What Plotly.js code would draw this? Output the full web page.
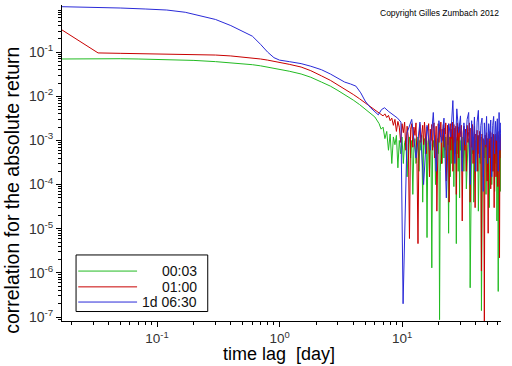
<!DOCTYPE html>
<html>
<head>
<meta charset="utf-8">
<script src="https://cdn.plot.ly/plotly-3.0.1.min.js"></script>
<style>html,body{margin:0;padding:0;background:#fff;}#chart{width:512px;height:366px;}</style>
</head>
<body>
<div id="chart"></div>
<script>
// ---- data ----
var seriesNames = ["00:03", "01:00", "1d 06:30"];
var xTitle = "time lag\u00a0\u00a0[day]";
var yTitle = "correlation for the absolute return";

var lagSmooth = [0.0167, 0.025, 0.033, 0.05, 0.07, 0.1, 0.15, 0.2, 0.3, 0.4, 0.5, 0.6, 0.7, 0.8, 1.0, 1.2, 1.5, 1.8, 2.2, 2.6, 3.0, 3.5, 4.0, 4.5, 5.0, 5.5, 6.0];

var lagNoise = [6.5, 6.75, 7, 7.25, 7.5, 7.75, 8, 8.25, 8.5, 8.75,
  9, 9.25, 9.5, 9.75, 10, 10.25, 10.5, 10.75, 11, 11.25,
  11.5, 11.75, 12, 12.25, 12.5, 12.75, 13, 13.25, 13.5, 13.75,
  14, 14.25, 14.5, 14.75, 15, 15.25, 15.5, 15.75, 16, 16.25,
  16.5, 16.75, 17, 17.25, 17.5, 17.75, 18, 18.25, 18.5, 18.75,
  19, 19.25, 19.5, 19.75, 20, 20.25, 20.5, 20.75, 21, 21.25,
  21.5, 21.75, 22, 22.25, 22.5, 22.75, 23, 23.25, 23.5, 23.75,
  24, 24.25, 24.5, 24.75, 25, 25.25, 25.5, 25.75, 26, 26.25,
  26.5, 26.75, 27, 27.25, 27.5, 27.75, 28, 28.25, 28.5, 28.75,
  29, 29.25, 29.5, 29.75, 30,
  30.5, 31, 31.5, 32, 32.5, 33, 33.5, 34, 34.5, 35,
  35.5, 36, 36.5, 37, 37.5, 38, 38.5, 39, 39.5, 40,
  40.5, 41, 41.5, 42, 42.5, 43, 43.5, 44, 44.5, 45,
  45.5, 46, 46.5, 47, 47.5, 48, 48.5, 49, 49.5, 50,
  50.5, 51, 51.5, 52, 52.5, 53, 53.5, 54, 54.5, 55,
  55.5, 56, 56.5, 57, 57.5, 58, 58.5, 59, 59.5, 60,
  60.5, 61, 61.5, 62, 62.5, 63, 63.5, 64, 64.5, 65];

var greenSmooth = [0.070, 0.071, 0.072, 0.071, 0.070, 0.069, 0.067, 0.065, 0.061, 0.058, 0.055, 0.052, 0.049, 0.046, 0.041, 0.037, 0.032, 0.027, 0.021, 0.017, 0.0135, 0.0105, 0.0082, 0.0065, 0.0052, 0.0042, 0.0034];

var greenNoise = [2.4e-3, 1.8e-3, 2.0e-3, 1.1e-3, 1.6e-3, 6e-4, 1.4e-3, 3e-4, 1.2e-3, 8e-4,
  1.3e-3, 2.4e-4, 1.0e-3, 5e-4, 1.2e-3, 3e-4, 9e-4, 1.1e-3, 1.5e-4, 8e-4,
  1.2e-3, 4e-4, 1.0e-3, 6e-5, 7e-4, 1.1e-3, 3e-4, 9e-4, 1.2e-3, 2e-4,
  1.0e-3, 6e-4, 1.3e-3, 4e-5, 8e-4, 1.1e-3, 5e-4, 1.2e-3, 6.3e-6, 9e-4,
  1.1e-3, 2e-4, 1.0e-3, 8e-4, 1.3e-6, 4e-4, 1.0e-3, 7e-4, 1.3e-3, 1.0e-4,
  6e-4, 9e-4, 1.1e-3, 5e-4, 1.2e-3, 8.7e-8, 2e-4, 9e-4, 1.2e-3, 3e-4,
  1.0e-3, 1.3e-3, 4e-4, 1.1e-3, 6e-4, 1.2e-3, 2e-4, 8e-4, 1.4e-3, 5e-4,
  7.9e-6, 1.0e-3, 1.2e-3, 1.5e-4, 9e-4, 1.3e-3, 3e-4, 1.1e-3, 6e-4, 1.2e-3,
  9e-5, 1.0e-3, 5e-4, 7e-4, 1.2e-3, 4.6e-6, 1.1e-3, 5e-4, 1.3e-3, 2e-4,
  9e-4, 1.2e-3, 5e-5, 1.0e-3, 6e-4,
  1.1e-3, 4e-4, 1.2e-3, 2e-4, 1.0e-3, 1.4e-3, 8e-5, 6e-4, 8e-4, 1.1e-3,
  3e-4, 4.6e-7, 1.2e-4, 9e-4, 5e-4, 1.2e-3, 4e-5, 7e-4, 1.0e-3, 2e-4,
  1.1e-3, 6e-4, 1.3e-3, 2.5e-5, 8e-4, 1.0e-3, 3e-4, 1.2e-3, 1.4e-7, 9e-4,
  1.1e-3, 1.5e-4, 7e-4, 1.0e-3, 4e-4, 1.3e-3, 6e-5, 8e-4, 1.1e-3, 2e-4,
  9e-4, 1.2e-3, 3e-5, 7e-4, 1.0e-3, 4e-4, 1.2e-3, 1e-4, 8e-4, 1.1e-3,
  2e-4, 9e-4, 1.3e-3, 7e-5, 8e-4, 1.0e-3, 3e-4, 1.1e-3, 1.5e-5, 9e-4,
  1.2e-3, 3.8e-7, 8e-4, 2e-4, 1.0e-3, 5e-4, 1.1e-3, 7e-5, 9e-4, 1.2e-3];

var redSmooth = [0.32, 0.16, 0.096, 0.094, 0.093, 0.092, 0.091, 0.089, 0.086, 0.082, 0.078, 0.074, 0.070, 0.066, 0.059, 0.053, 0.046, 0.038, 0.029, 0.023, 0.018, 0.014, 0.011, 0.0088, 0.0071, 0.0058, 0.0048];

var redNoise = [4.2e-3, 3.9e-3, 3.6e-3, 4.0e-3, 3.3e-3, 3.7e-3, 2.8e-3, 3.2e-3, 2.2e-3, 3.0e-3,
  1.6e-3, 2.7e-3, 2.0e-3, 9e-4, 2.4e-3, 1.5e-3, 2.6e-3, 6e-4, 2.1e-3, 1.2e-3,
  6e-6, 1.8e-3, 2.4e-3, 7e-4, 2.0e-3, 1.3e-3, 2.5e-3, 3e-4, 4.6e-6, 1.1e-3,
  2.3e-3, 9e-4, 1.6e-3, 2.2e-3, 8e-4, 2.6e-3, 1.4e-3, 5e-4, 2.0e-3, 1.7e-3,
  2.4e-3, 1.5e-4, 1.8e-3, 1.0e-3, 2.3e-3, 6e-4, 1.9e-3, 2.5e-3, 4e-4, 1.5e-3,
  2.1e-3, 2.5e-5, 1.7e-3, 2.4e-3, 9e-4, 2.0e-3, 1.2e-3, 2.6e-3, 3e-4, 1.8e-3,
  1.0e-3, 2.3e-3, 7e-4, 1.9e-3, 1.4e-3, 2.5e-3, 1.2e-4, 1.6e-3, 2.2e-3, 8e-4,
  2.0e-3, 4e-5, 1.5e-3, 2.4e-3, 6e-4, 1.8e-3, 1.1e-3, 2.6e-3, 2e-4, 1.7e-3,
  2.3e-3, 9e-4, 1.9e-3, 5e-4, 2.1e-3, 6e-5, 1.6e-3, 2.5e-3, 1.0e-3, 2.0e-3,
  4e-4, 1.7e-3, 2.4e-3, 1.2e-3, 1.9e-3,
  2.2e-3, 1.5e-5, 1.5e-3, 2.1e-3, 6e-4, 1.8e-3, 2.0e-4, 2.2e-3, 9e-4, 1.6e-3,
  2.5e-3, 4e-5, 1.9e-3, 7e-4, 2.3e-3, 3e-4, 1.5e-3, 2.1e-3, 3e-5, 1.4e-3,
  9e-4, 1.7e-3, 2e-4, 1.3e-3, 5e-4, 1.6e-3, 1.0e-3, 1.2e-3, 1.1e-6, 1.4e-3,
  6e-4, 1.1e-3, 2.5e-4, 8e-8, 1.3e-3, 1.2e-3, 7e-4, 1.5e-3, 1.2e-4, 1.1e-3,
  7.9e-6, 1.4e-3, 4e-4, 1.0e-3, 1.6e-3, 8e-5, 1.2e-3, 6e-4, 1.5e-3, 2e-4,
  1.1e-3, 1.4e-3, 3e-5, 1.0e-3, 8e-4, 1.4e-3, 1.5e-4, 1.2e-3, 5e-4, 1.5e-3,
  9e-5, 1.3e-3, 9e-4, 1.6e-3, 2.2e-6, 1.2e-3, 6e-4, 1.4e-3, 4e-4, 1.5e-3];

var lagBlue = [0.0167, 0.03, 0.05, 0.08, 0.12, 0.17, 0.22, 0.3, 0.4, 0.5, 0.6, 0.7, 0.8, 0.9, 1.0, 1.2, 1.5, 1.8, 2.2, 2.6, 3.0, 3.4, 3.8, 4.2, 4.6, 5.0, 5.5, 6.0, 6.4, 6.8, 7.2, 7.8, 8.5, 9.2, 9.8, 10.2,
  11, 12, 13, 14, 15, 16, 17, 18, 19, 20, 21, 22, 23, 24, 25, 26, 27, 28, 29, 30, 31, 32, 33, 34, 35, 36, 37, 38, 39, 40, 41, 42, 43, 44, 45, 46, 47, 48, 49, 50, 51, 52, 53, 54, 55, 56, 57, 58, 59, 60, 61, 62, 63, 64, 65];

var blueValues = [1.07, 1.04, 1.0, 0.95, 0.9, 0.8, 0.68, 0.55, 0.4, 0.3, 0.23, 0.15, 0.1, 0.075, 0.066, 0.061, 0.055, 0.048, 0.04, 0.032, 0.025, 0.021, 0.019, 0.017, 0.012, 0.0078, 0.0056, 0.0045, 0.0038, 0.005, 0.0055, 0.0045, 0.0038, 0.0032, 0.0026, 2e-7,
  1.5e-3, 3e-3, 4e-4, 2.6e-3, 1e-4, 2.2e-3, 6e-4, 4.3e-3, 2e-4, 2.8e-3,
  9e-4, 3.2e-3, 5e-5, 2.4e-3, 1.2e-3, 8e-3, 3e-4, 5.2e-3, 1.5e-3, 3.6e-3,
  2e-4, 2.5e-3, 8e-4, 3e-3, 4.3e-3, 1e-4, 2.8e-3, 6e-4, 3.4e-3, 2e-4,
  2.6e-3, 4.8e-3, 4e-4, 2.2e-3, 3.2e-3, 7e-5, 2.5e-3, 8e-4, 3.5e-3, 3e-4,
  2.4e-3, 1.1e-3, 2.9e-3, 1.5e-4, 2.2e-3, 3.5e-3, 5e-4, 2.7e-3, 1e-3, 3.1e-3,
  2e-4, 4.3e-3, 6e-4, 2.5e-3, 1.8e-3];

var xTickVals = [0.1, 1, 10];
var xTickText = ["10<sup>-1</sup>", "10<sup>0</sup>", "10<sup>1</sup>"];
var yTickVals = [1e-7, 1e-6, 1e-5, 1e-4, 1e-3, 1e-2, 1e-1];
var yTickText = ["10<sup>-7</sup>", "10<sup>-6</sup>", "10<sup>-5</sup>", "10<sup>-4</sup>", "10<sup>-3</sup>", "10<sup>-2</sup>", "10<sup>-1</sup>"];
var xMinorTicks = [0.02, 0.03, 0.04, 0.05, 0.06, 0.07, 0.08, 0.09, 0.2, 0.3, 0.4, 0.5, 0.6, 0.7, 0.8, 0.9,
  2, 3, 4, 5, 6, 7, 8, 9, 20, 30, 40, 50, 60];
var yMinorTicks = [9e-8, 2e-7, 3e-7, 4e-7, 5e-7, 6e-7, 7e-7, 8e-7, 9e-7, 2e-6, 3e-6, 4e-6, 5e-6, 6e-6, 7e-6, 8e-6, 9e-6,
  2e-5, 3e-5, 4e-5, 5e-5, 6e-5, 7e-5, 8e-5, 9e-5, 2e-4, 3e-4, 4e-4, 5e-4, 6e-4, 7e-4, 8e-4, 9e-4,
  2e-3, 3e-3, 4e-3, 5e-3, 6e-3, 7e-3, 8e-3, 9e-3, 0.02, 0.03, 0.04, 0.05, 0.06, 0.07, 0.08, 0.09,
  0.2, 0.3, 0.4, 0.5, 0.6, 0.7, 0.8, 0.9];

// ---- styles ----
var colors = ["#22bb22", "#c80000", "#2a2ad8"];
var FONT = "Liberation Sans, Arial, sans-serif";

var traces = [
  {x: lagSmooth.concat(lagNoise), y: greenSmooth.concat(greenNoise), name: seriesNames[0]},
  {x: lagSmooth.concat(lagNoise), y: redSmooth.concat(redNoise), name: seriesNames[1]},
  {x: lagBlue, y: blueValues, name: seriesNames[2]}
].map(function (t, i) {
  t.type = "scatter"; t.mode = "lines";
  t.line = {color: colors[i], width: 1};
  t.showlegend = false;
  return t;
});

// manual legend (box, sample lines, right-aligned labels)
var shapes = [{type: "rect", xref: "paper", yref: "paper", x0: 0.032, x1: 0.332, y0: 0.03, y1: 0.209,
  line: {color: "#000", width: 1}, fillcolor: "#fff"}];
var rowY = [0.158, 0.108, 0.06];
var annotations = [];
seriesNames.forEach(function (n, i) {
  shapes.push({type: "line", xref: "paper", yref: "paper", x0: 0.037, x1: 0.171, y0: rowY[i], y1: rowY[i],
    line: {color: colors[i], width: 1}});
  annotations.push({xref: "paper", yref: "paper", x: 0.313, y: rowY[i], xanchor: "right", yanchor: "middle",
    text: n, showarrow: false, font: {family: FONT, size: 14, color: "#111"}});
});
annotations.push({xref: "paper", yref: "paper", x: 1.0, y: 0.975, xanchor: "right", yanchor: "middle",
  text: "Copyright Gilles Zumbach 2012", showarrow: false, font: {family: FONT, size: 8.5, color: "#000"}});
// axis titles, placed like the reference
annotations.push({xref: "paper", yref: "paper", x: -0.114, y: 0.415, xanchor: "center", yanchor: "middle",
  textangle: -90, text: yTitle, showarrow: false, font: {family: FONT, size: 19.5, color: "#000"}});
annotations.push({xref: "paper", yref: "paper", x: 0.495, y: -0.143, xanchor: "center", yanchor: "bottom",
  text: xTitle, showarrow: false, font: {family: FONT, size: 18, color: "#000"}});

var layout = {
  width: 512, height: 366,
  margin: {l: 62, r: 11, t: 5, b: 45},
  paper_bgcolor: "#fff", plot_bgcolor: "#fff",
  showlegend: false,
  font: {family: FONT, color: "#000"},
  xaxis: {
    type: "log", range: [-1.776, 1.808],
    tickmode: "array", tickvals: xTickVals, ticktext: xTickText,
    ticks: "outside", ticklen: 5, tickcolor: "#000",
    minor: {tickmode: "array", tickvals: xMinorTicks, ticks: "outside", ticklen: 3, tickcolor: "#000", showgrid: false},
    showline: true, linecolor: "#000", linewidth: 1, mirror: false,
    showgrid: false, zeroline: false,
    tickfont: {family: FONT, size: 13.5, color: "#333"}
  },
  yaxis: {
    type: "log", range: [-7.09, 0.068],
    tickmode: "array", tickvals: yTickVals, ticktext: yTickText,
    ticks: "outside", ticklen: 5, tickcolor: "#000",
    minor: {tickmode: "array", tickvals: yMinorTicks, ticks: "outside", ticklen: 3, tickcolor: "#000", showgrid: false},
    showline: true, linecolor: "#000", linewidth: 1, mirror: false,
    showgrid: false, zeroline: false,
    tickfont: {family: FONT, size: 14, color: "#333"}
  },
  shapes: shapes,
  annotations: annotations
};

Plotly.newPlot("chart", traces, layout, {staticPlot: true, displayModeBar: false});
</script>
</body>
</html>
